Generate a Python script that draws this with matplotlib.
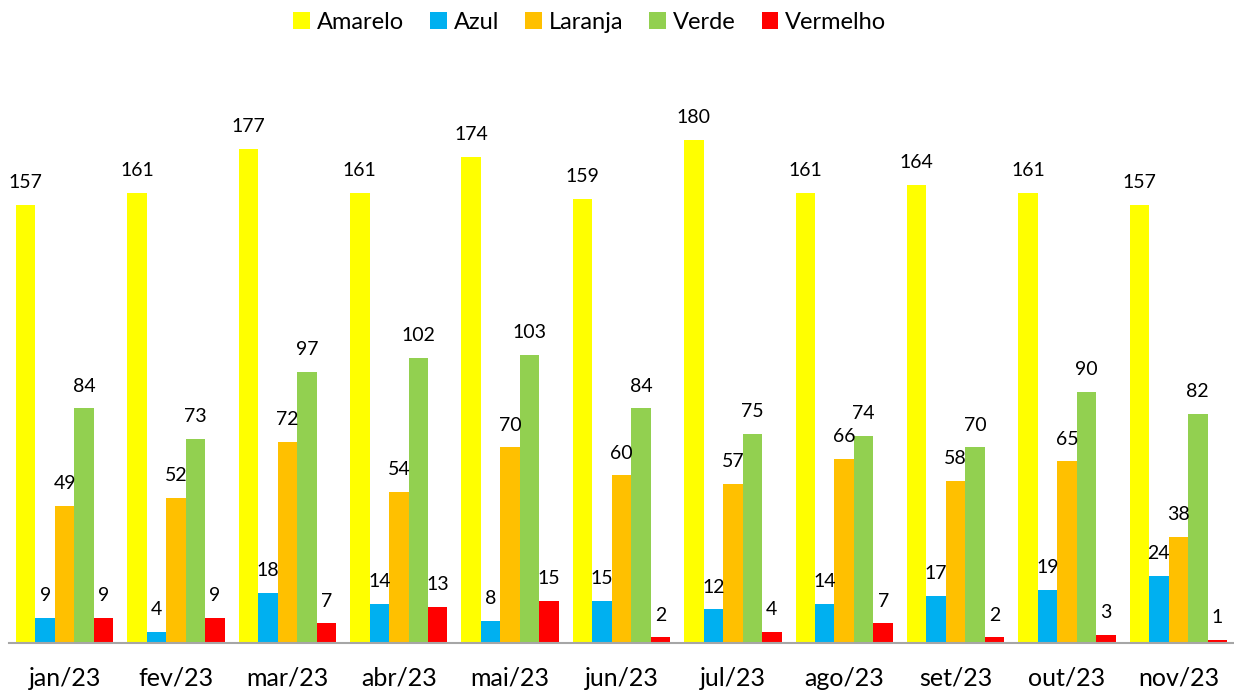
import numpy as np
import matplotlib.pyplot as plt

plt.rcParams['font.family'] = ['Lato', 'DejaVu Sans']

months = ['jan/23', 'fev/23', 'mar/23', 'abr/23', 'mai/23', 'jun/23',
          'jul/23', 'ago/23', 'set/23', 'out/23', 'nov/23']
amarelo = [157, 161, 177, 161, 174, 159, 180, 161, 164, 161, 157]
azul = [9, 4, 18, 14, 8, 15, 12, 14, 17, 19, 24]
laranja = [49, 52, 72, 54, 70, 60, 57, 66, 58, 65, 38]
verde = [84, 73, 97, 102, 103, 84, 75, 74, 70, 90, 82]
vermelho = [9, 9, 7, 13, 15, 2, 4, 7, 2, 3, 1]

series = [('Amarelo', amarelo, '#FFFF00'),
          ('Azul', azul, '#00B0F0'),
          ('Laranja', laranja, '#FFC000'),
          ('Verde', verde, '#92D050'),
          ('Vermelho', vermelho, '#FF0000')]

fig = plt.figure(figsize=(12.34, 6.93), dpi=100)
ax = fig.add_axes([9 / 1234, 1 - 643 / 693, 1 - 9 / 1234, 553 / 693])

x = np.arange(len(months))
w = 0.175
for i, (name, vals, col) in enumerate(series):
    bars = ax.bar(x + (i - 2) * w, vals, w, color=col, label=name)
    for b, v in zip(bars, vals):
        ax.annotate(str(v), (b.get_x() + b.get_width() / 2, v),
                    xytext=(0, 10), textcoords='offset points',
                    ha='center', va='bottom', fontsize=14, color='black')

ax.set_xlim(-0.5, len(months) - 0.5)
ax.set_ylim(0, 198)
ax.set_xticks(x)
ax.set_xticklabels(months, fontsize=18)
ax.tick_params(axis='x', length=0, pad=17)
ax.set_yticks([])
for s in ['top', 'right', 'left']:
    ax.spines[s].set_visible(False)
ax.spines['bottom'].set_color('#A6A6A6')
ax.spines['bottom'].set_linewidth(1.5)

fig.legend(loc='upper center', bbox_to_anchor=(0.478, 1.014), ncol=5,
           frameon=False, fontsize=17, handlelength=0.7, handleheight=0.7,
           handletextpad=0.3, columnspacing=1.1)

fig.savefig('out.png', dpi=100)
